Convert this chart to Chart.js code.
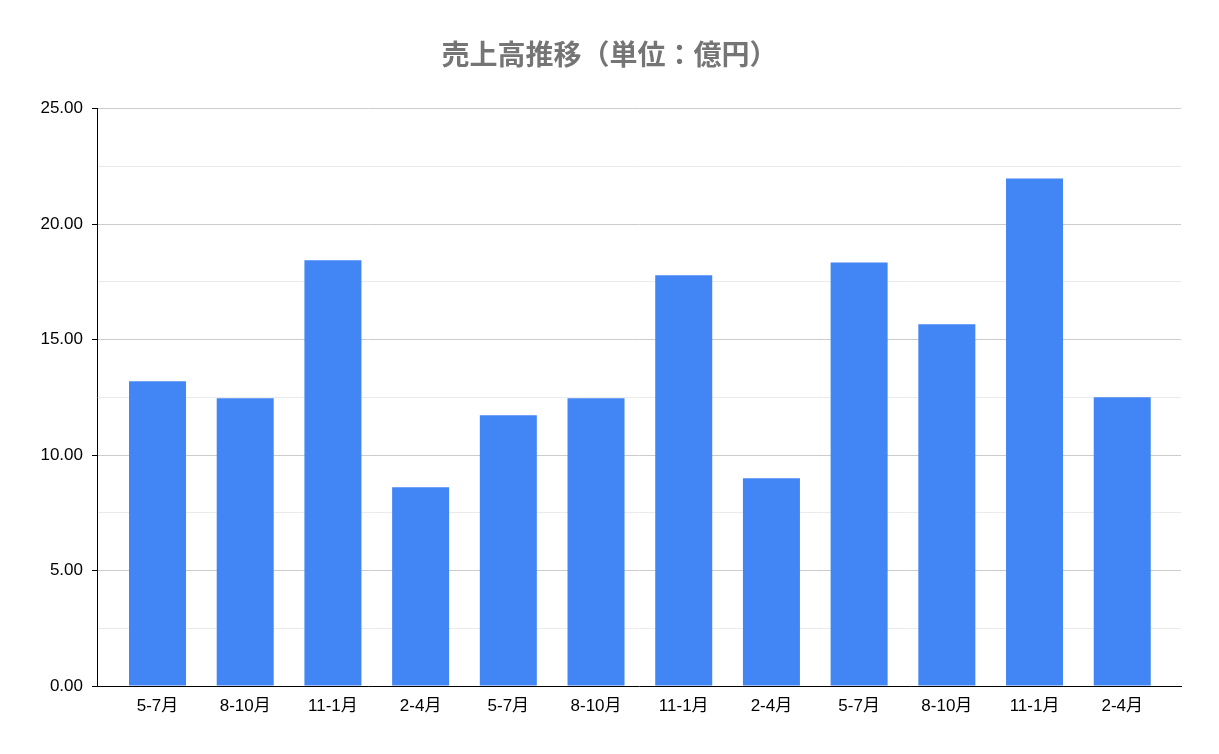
<!DOCTYPE html>
<html lang="ja">
<head>
<meta charset="UTF-8">
<title>売上高推移</title>
<script src="https://cdn.jsdelivr.net/npm/chart.js@4.4.1/dist/chart.umd.min.js"></script>
<style>
  html, body { margin: 0; padding: 0; background: #fff; }
  #wrap { width: 1219px; height: 754px; }
</style>
</head>
<body>
<div id="wrap"><canvas id="chart" width="1219" height="754"></canvas></div>
<script>
const categories = ['5-7月', '8-10月', '11-1月', '2-4月', '5-7月', '8-10月', '11-1月', '2-4月', '5-7月', '8-10月', '11-1月', '2-4月'];
const sales = [13.19, 12.46, 18.43, 8.61, 11.72, 12.46, 17.78, 9.00, 18.34, 15.66, 21.97, 12.50];
const yMax = 25;
const yStep = 2.5;

const FONT = "Arial, 'Liberation Sans', 'Noto Sans CJK JP', sans-serif";
const TITLE_FONT = "'Noto Sans CJK JP', Arial, sans-serif";

function isMajor(v) {
    return Math.abs(v / 5 - Math.round(v / 5)) < 1e-6;
}

// bars sit on a linear index axis so there is some room between the y axis and the first bar
const points = sales.map((v, i) => ({ x: i, y: v }));

new Chart(document.getElementById('chart'), {
    type: 'bar',
    data: {
        datasets: [{
            label: '売上高',
            data: points,
            backgroundColor: '#4285f4',
            borderWidth: 0,
            barPercentage: 0.65,
            categoryPercentage: 1
        }]
    },
    options: {
        responsive: false,
        animation: false,
        layout: { padding: 0 },
        plugins: {
            legend: { display: false },
            tooltip: { enabled: false },
            title: {
                display: true,
                text: '売上高推移（単位：億円）',
                color: '#757575',
                font: { family: TITLE_FONT, size: 28, weight: 'bold' },
                padding: { top: 38, bottom: 37 }
            }
        },
        scales: {
            x: {
                type: 'linear',
                offset: false,
                min: -0.69,
                max: categories.length - 1 + 0.67,
                grid: { display: false, drawTicks: false },
                border: { display: true, color: '#000', width: 1 },
                ticks: {
                    stepSize: 1,
                    includeBounds: false,
                    autoSkip: false,
                    maxRotation: 0,
                    color: '#000',
                    padding: 10,
                    font: { family: FONT, size: 17 },
                    callback: v => Number.isInteger(v) ? categories[v] : ''
                },
                afterFit(scale) { scale.height = 68; }
            },
            y: {
                min: 0,
                max: yMax,
                border: { display: true, color: '#000', width: 1 },
                grid: {
                    color: ctx => isMajor(ctx.tick.value) ? '#cccccc' : '#ebebeb',
                    tickColor: ctx => isMajor(ctx.tick.value) ? '#000' : 'rgba(0,0,0,0)',
                    tickLength: 5,
                    lineWidth: 1
                },
                ticks: {
                    stepSize: yStep,
                    color: '#000',
                    padding: 9,
                    font: { family: FONT, size: 17 },
                    callback: v => isMajor(v) ? v.toFixed(2) : ''
                },
                afterFit(scale) { scale.width = 97; }
            },
            // empty right-hand axis, only keeps the plot clear of the right edge
            yRight: {
                position: 'right',
                min: 0,
                max: yMax,
                border: { display: false },
                grid: { drawOnChartArea: false, drawTicks: false },
                ticks: { display: false },
                afterFit(scale) { scale.width = 38; }
            }
        }
    }
});
</script>
</body>
</html>
